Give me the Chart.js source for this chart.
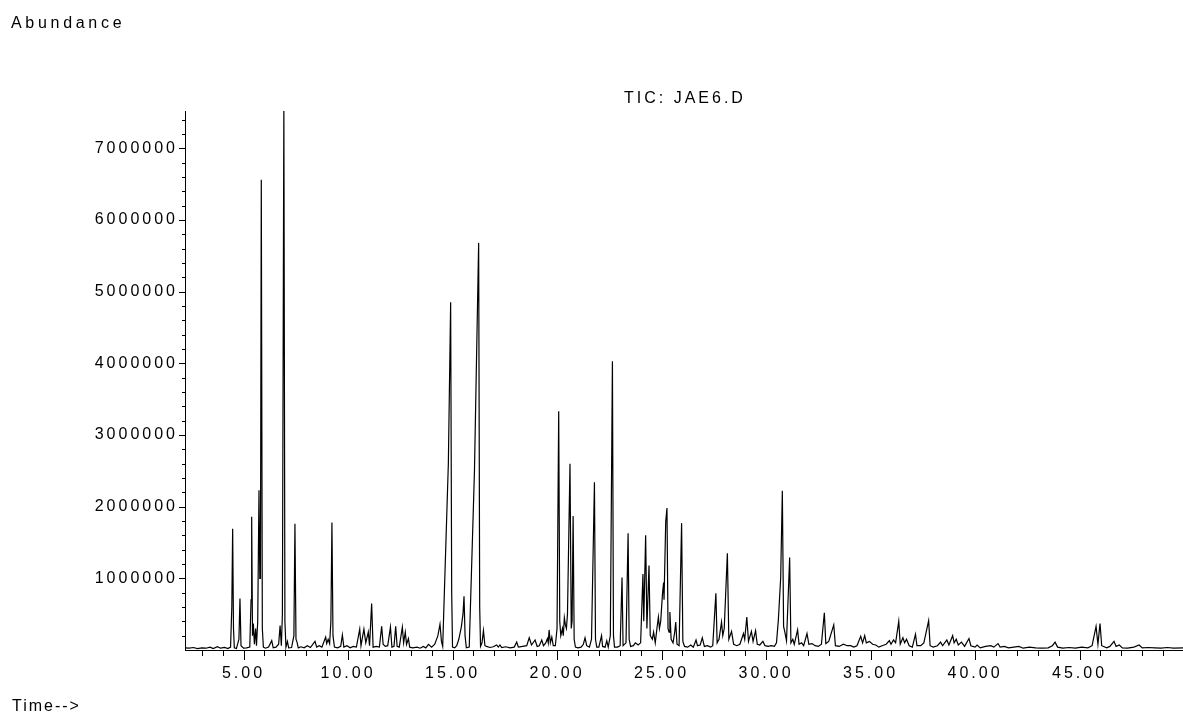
<!DOCTYPE html>
<html>
<head>
<meta charset="utf-8">
<title>TIC: JAE6.D</title>
<script src="https://cdn.jsdelivr.net/npm/chart.js@4.4.1/dist/chart.umd.min.js"></script>
<style>
  html, body { margin: 0; padding: 0; background: #fff; overflow: hidden; }
  #chart-wrap { position: relative; width: 1183px; height: 717px; }
  #myChart { position: absolute; left: 0; top: 0; }
  .caption {
    position: absolute;
    font-family: "Liberation Sans", Arial, sans-serif;
    font-size: 16px;
    color: #000;
    white-space: nowrap;
    line-height: 1;
  }
  #abundance-title { left: 11px; top: 15px; letter-spacing: 3.7px; }
  #trace-title { left: 624px; top: 90px; letter-spacing: 3px; }
  #time-title { left: 12px; top: 698px; letter-spacing: 2px; }
</style>
</head>
<body>
<div id="chart-wrap">
  <canvas id="myChart" width="1183" height="717"></canvas>
  <div class="caption" id="abundance-title">Abundance</div>
  <div class="caption" id="trace-title">TIC: JAE6.D</div>
  <div class="caption" id="time-title">Time--&gt;</div>
</div>
<script>
// retention time (min) and total ion count for each point of the trace
const retentionTimes = [
  2.20, 2.40, 2.60, 2.80, 3.00, 3.20, 3.40, 3.55, 3.75, 3.90,
  4.10, 4.25, 4.38, 4.44, 4.48, 4.52, 4.56, 4.66, 4.78, 4.83,
  4.88, 5.00, 5.15, 5.30, 5.36, 5.39, 5.43, 5.47, 5.52, 5.58,
  5.62, 5.68, 5.74, 5.78, 5.81, 5.85, 5.90, 5.95, 6.05, 6.20,
  6.35, 6.42, 6.55, 6.68, 6.75, 6.81, 6.86, 6.93, 6.98, 7.03,
  7.10, 7.16, 7.30, 7.41, 7.46, 7.51, 7.56, 7.62, 7.75, 7.90,
  8.05, 8.20, 8.42, 8.50, 8.62, 8.75, 8.93, 8.98, 9.05, 9.12,
  9.18, 9.23, 9.28, 9.35, 9.50, 9.65, 9.73, 9.80, 9.95, 10.10,
  10.25, 10.40, 10.56, 10.62, 10.76, 10.85, 10.97, 11.03, 11.13, 11.20,
  11.35, 11.50, 11.61, 11.68, 11.78, 11.90, 12.03, 12.10, 12.20, 12.28,
  12.35, 12.45, 12.60, 12.66, 12.74, 12.80, 12.89, 12.95, 13.10, 13.30,
  13.45, 13.60, 13.72, 13.85, 14.00, 14.15, 14.30, 14.40, 14.47, 14.53,
  14.80, 14.91, 14.96, 15.00, 15.10, 15.20, 15.30, 15.42, 15.50, 15.55,
  15.60, 15.66, 15.80, 16.05, 16.25, 16.30, 16.34, 16.41, 16.48, 16.55,
  16.63, 16.79, 16.95, 17.11, 17.19, 17.27, 17.35, 17.55, 17.75, 17.95,
  18.07, 18.15, 18.35, 18.55, 18.67, 18.78, 18.95, 19.05, 19.15, 19.27,
  19.35, 19.46, 19.54, 19.58, 19.62, 19.68, 19.75, 19.82, 19.92, 20.00,
  20.08, 20.13, 20.18, 20.26, 20.30, 20.35, 20.40, 20.45, 20.50, 20.62,
  20.68, 20.72, 20.77, 20.82, 20.88, 21.00, 21.15, 21.26, 21.34, 21.42,
  21.55, 21.65, 21.79, 21.84, 21.90, 22.00, 22.13, 22.18, 22.30, 22.38,
  22.45, 22.55, 22.65, 22.70, 22.75, 22.90, 23.02, 23.11, 23.16, 23.30,
  23.40, 23.45, 23.52, 23.65, 23.75, 23.88, 24.00, 24.11, 24.15, 24.24,
  24.30, 24.40, 24.46, 24.56, 24.62, 24.70, 24.78, 24.85, 24.90, 24.96,
  25.05, 25.10, 25.12, 25.20, 25.26, 25.31, 25.36, 25.40, 25.46, 25.55,
  25.63, 25.68, 25.74, 25.84, 25.96, 26.02, 26.10, 26.25, 26.40, 26.52,
  26.65, 26.72, 26.85, 26.95, 27.05, 27.20, 27.35, 27.45, 27.60, 27.66,
  27.75, 27.87, 27.93, 28.00, 28.15, 28.22, 28.35, 28.45, 28.60, 28.75,
  28.92, 28.98, 29.08, 29.16, 29.30, 29.38, 29.50, 29.58, 29.70, 29.85,
  29.95, 30.10, 30.25, 30.40, 30.50, 30.59, 30.70, 30.78, 30.84, 30.90,
  30.98, 31.13, 31.19, 31.28, 31.35, 31.51, 31.58, 31.70, 31.80, 31.96,
  32.05, 32.20, 32.35, 32.50, 32.65, 32.79, 32.86, 33.00, 33.24, 33.32,
  33.50, 33.70, 33.88, 34.05, 34.20, 34.35, 34.53, 34.62, 34.72, 34.80,
  34.95, 35.10, 35.25, 35.40, 35.55, 35.75, 35.90, 35.98, 36.10, 36.20,
  36.35, 36.42, 36.55, 36.63, 36.72, 36.85, 37.00, 37.15, 37.22, 37.40,
  37.55, 37.78, 37.85, 38.00, 38.20, 38.35, 38.45, 38.65, 38.75, 38.93,
  39.00, 39.10, 39.20, 39.35, 39.50, 39.71, 39.80, 40.00, 40.10, 40.25,
  40.50, 40.75, 40.90, 41.10, 41.20, 41.40, 41.60, 41.85, 42.10, 42.30,
  42.60, 42.90, 43.20, 43.50, 43.70, 43.83, 43.95, 44.20, 44.50, 44.80,
  45.10, 45.40, 45.60, 45.79, 45.88, 45.98, 46.06, 46.30, 46.45, 46.65,
  46.75, 46.90, 47.05, 47.30, 47.60, 47.85, 48.00, 48.30, 48.60, 48.90,
  49.20, 49.50, 49.95,
]

const abundance = [
  30000, 25000, 35000, 20000, 30000, 25000, 40000, 20000, 45000, 25000,
  35000, 20000, 40000, 600000, 1690000, 300000, 30000, 20000, 150000, 720000,
  60000, 25000, 30000, 40000, 700000, 1860000, 200000, 370000, 80000, 300000,
  60000, 400000, 2230000, 1000000, 1000000, 6560000, 300000, 40000, 25000, 40000,
  130000, 30000, 40000, 80000, 340000, 60000, 500000, 7600000, 400000, 40000,
  120000, 30000, 35000, 200000, 1760000, 150000, 110000, 30000, 45000, 30000,
  60000, 35000, 120000, 40000, 60000, 40000, 180000, 90000, 150000, 90000,
  400000, 1780000, 200000, 40000, 30000, 50000, 210000, 40000, 60000, 30000,
  50000, 40000, 290000, 60000, 290000, 100000, 250000, 60000, 650000, 40000,
  50000, 40000, 330000, 80000, 50000, 60000, 320000, 40000, 50000, 330000,
  50000, 40000, 320000, 100000, 250000, 80000, 160000, 40000, 30000, 40000,
  25000, 50000, 30000, 80000, 40000, 80000, 200000, 360000, 120000, 50000,
  2600000, 4850000, 800000, 40000, 30000, 60000, 150000, 320000, 500000, 750000,
  200000, 30000, 40000, 2500000, 5680000, 600000, 50000, 100000, 270000, 60000,
  50000, 35000, 45000, 70000, 40000, 70000, 35000, 45000, 30000, 40000,
  110000, 40000, 50000, 60000, 170000, 70000, 140000, 50000, 60000, 140000,
  60000, 100000, 160000, 100000, 280000, 100000, 180000, 60000, 60000, 300000,
  3330000, 400000, 200000, 300000, 200000, 450000, 350000, 300000, 500000, 2600000,
  300000, 400000, 1870000, 150000, 40000, 30000, 40000, 80000, 170000, 60000,
  40000, 150000, 2340000, 150000, 40000, 40000, 200000, 50000, 40000, 130000,
  40000, 200000, 4030000, 200000, 40000, 40000, 60000, 1010000, 60000, 100000,
  1630000, 150000, 50000, 60000, 100000, 70000, 100000, 1060000, 400000, 1600000,
  300000, 1180000, 200000, 150000, 250000, 100000, 300000, 460000, 300000, 400000,
  800000, 940000, 700000, 1790000, 1980000, 300000, 250000, 530000, 150000, 100000,
  250000, 390000, 80000, 60000, 1770000, 120000, 50000, 40000, 70000, 40000,
  140000, 60000, 70000, 170000, 50000, 60000, 40000, 60000, 790000, 100000,
  150000, 390000, 200000, 300000, 1350000, 150000, 260000, 80000, 60000, 80000,
  230000, 150000, 460000, 120000, 260000, 120000, 270000, 80000, 70000, 120000,
  60000, 50000, 60000, 50000, 100000, 420000, 1000000, 2220000, 330000, 250000,
  130000, 1290000, 100000, 150000, 80000, 280000, 80000, 100000, 60000, 230000,
  80000, 90000, 60000, 50000, 80000, 520000, 90000, 120000, 350000, 60000,
  50000, 80000, 60000, 60000, 40000, 60000, 190000, 100000, 200000, 100000,
  120000, 80000, 70000, 40000, 60000, 80000, 130000, 80000, 140000, 100000,
  400000, 80000, 170000, 100000, 150000, 60000, 40000, 220000, 60000, 60000,
  100000, 410000, 60000, 40000, 60000, 110000, 60000, 140000, 70000, 200000,
  100000, 150000, 70000, 110000, 50000, 160000, 60000, 40000, 70000, 30000,
  50000, 60000, 40000, 90000, 40000, 50000, 30000, 40000, 50000, 25000,
  40000, 30000, 25000, 30000, 60000, 110000, 40000, 25000, 35000, 25000,
  40000, 30000, 60000, 330000, 80000, 370000, 60000, 30000, 50000, 120000,
  50000, 70000, 30000, 25000, 40000, 70000, 30000, 35000, 30000, 25000,
  35000, 25000, 30000,
]

// labelled ticks on each axis
const timeLabels = [5, 10, 15, 20, 25, 30, 35, 40, 45]
const abundanceLabels = [1000000, 2000000, 3000000, 4000000, 5000000, 6000000, 7000000]

const timeRange = [2.2, 49.95]
const abundanceRange = [0, 7520000]
const minorTimeStep = 1
const minorAbundanceStep = 200000

Chart.defaults.font.family = "'Liberation Sans', Arial, sans-serif"
Chart.defaults.font.size = 16
Chart.defaults.color = "#000"

// canvas text gets the same wide letter spacing as the captions
const spacedLabels = {
  id: "spacedLabels",
  beforeDraw(chart) {
    chart.ctx.letterSpacing = "3px"
  },
}

// short minor ticks, longer ticks where a label sits
const tickMarks = {
  id: "tickMarks",
  afterDraw(chart) {
    const { ctx } = chart
    const x = chart.scales.x
    const y = chart.scales.y
    ctx.save()
    ctx.strokeStyle = "#000"
    ctx.lineWidth = 1
    ctx.beginPath()
    for (let t = Math.ceil(timeRange[0]); t <= timeRange[1]; t += minorTimeStep) {
      const px = Math.round(x.getPixelForValue(t)) + 0.5
      const len = timeLabels.includes(t) ? 10 : 6
      ctx.moveTo(px, x.top)
      ctx.lineTo(px, x.top + len)
    }
    for (let v = minorAbundanceStep; v <= abundanceRange[1]; v += minorAbundanceStep) {
      const py = Math.round(y.getPixelForValue(v)) + 0.5
      const len = abundanceLabels.includes(v) ? 6 : 3
      ctx.moveTo(y.right, py)
      ctx.lineTo(y.right - len, py)
    }
    ctx.stroke()
    ctx.restore()
  },
}

const points = retentionTimes.map((t, i) => ({ x: t, y: abundance[i] }))

const config = {
  type: "line",
  data: {
    datasets: [
      {
        label: "TIC: JAE6.D",
        data: points,
        borderColor: "#000",
        borderWidth: 1.2,
        pointRadius: 0,
        tension: 0,
        fill: false,
      },
    ],
  },
  options: {
    responsive: false,
    devicePixelRatio: 1,
    animation: false,
    events: [],
    layout: { padding: { top: 111, right: 0, left: 0, bottom: 0 } },
    plugins: {
      legend: { display: false },
      title: { display: false },
      tooltip: { enabled: false },
    },
    scales: {
      x: {
        type: "linear",
        min: timeRange[0],
        max: timeRange[1],
        grid: { drawOnChartArea: false, drawTicks: false },
        border: { display: true, color: "#000", width: 1 },
        ticks: {
          autoSkip: false,
          maxRotation: 0,
          padding: 14,
          callback: (v) => v.toFixed(2),
        },
        afterBuildTicks: (scale) => {
          scale.ticks = timeLabels.map((v) => ({ value: v }))
        },
        afterFit: (scale) => {
          scale.height = 67
          scale.paddingLeft = 0
          scale.paddingRight = 0
        },
      },
      y: {
        type: "linear",
        min: abundanceRange[0],
        max: abundanceRange[1],
        grid: { drawOnChartArea: false, drawTicks: false },
        border: { display: true, color: "#000", width: 1 },
        ticks: {
          autoSkip: false,
          padding: 7,
          callback: (v) => String(v),
        },
        afterBuildTicks: (scale) => {
          scale.ticks = abundanceLabels.map((v) => ({ value: v }))
        },
        afterFit: (scale) => {
          scale.width = 185
          scale.paddingTop = 0
          scale.paddingBottom = 0
        },
      },
    },
  },
  plugins: [spacedLabels, tickMarks],
}

const myChart = new Chart(document.getElementById("myChart"), config)
</script>
</body>
</html>
